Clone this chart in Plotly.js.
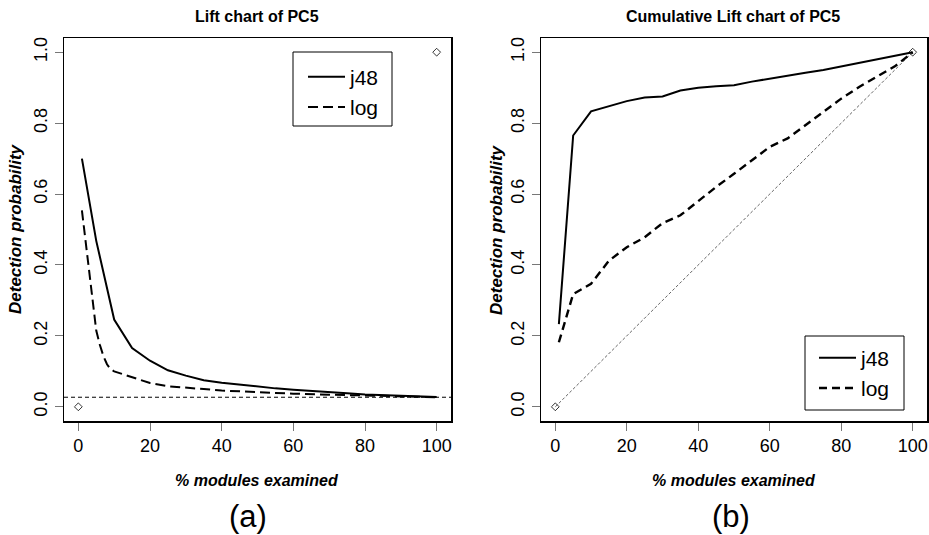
<!DOCTYPE html>
<html>
<head>
<meta charset="utf-8">
<script src="https://cdn.plot.ly/plotly-3.0.1.min.js"></script>
<style>
  html, body { margin: 0; padding: 0; background: #fff; }
  #chart { width: 929px; height: 535px; }
</style>
</head>
<body>
<div id="chart"></div>
<script>
// ---- data ----
var seriesNames = ['j48', 'log'];

// (a) Lift chart
var liftJ48X = [1, 5, 10, 15, 20, 25, 30, 35, 40, 45, 50, 55, 60, 65, 70, 75, 80, 85, 90, 95, 100];
var liftJ48Y = [0.70, 0.468, 0.246, 0.166, 0.130, 0.103, 0.088, 0.075, 0.068, 0.062, 0.056, 0.052, 0.048, 0.044, 0.040, 0.038, 0.035, 0.033, 0.030, 0.029, 0.028];
var liftLogX = [1, 2, 3, 4, 5, 6, 7, 8, 9, 10, 15, 20, 25, 30, 35, 40, 45, 50, 55, 60, 65, 70, 75, 80, 85, 90, 95, 100];
var liftLogY = [0.554, 0.47, 0.385, 0.30, 0.215, 0.175, 0.143, 0.12, 0.106, 0.100, 0.083, 0.067, 0.058, 0.053, 0.050, 0.046, 0.043, 0.041, 0.039, 0.037, 0.035, 0.034, 0.033, 0.032, 0.031, 0.029, 0.028, 0.027];
var liftBaseline = 0.027;

// (b) Cumulative lift chart
var cumX = [1, 5, 10, 15, 20, 25, 30, 35, 40, 45, 50, 55, 60, 65, 70, 75, 80, 85, 90, 95, 100];
var cumJ48Y = [0.233, 0.765, 0.833, 0.847, 0.862, 0.872, 0.875, 0.892, 0.900, 0.904, 0.907, 0.917, 0.926, 0.933, 0.942, 0.950, 0.960, 0.970, 0.982, 0.992, 1.000];
var cumLogY = [0.182, 0.318, 0.347, 0.412, 0.450, 0.478, 0.518, 0.540, 0.580, 0.620, 0.657, 0.695, 0.733, 0.757, 0.794, 0.831, 0.869, 0.902, 0.930, 0.960, 1.000];

// reference points / random-selection diagonal
var endX = [0, 100];
var endY = [0, 1];

var xTickVals = [0, 20, 40, 60, 80, 100];
var xTickText = ['0', '20', '40', '60', '80', '100'];
var yTickVals = [0, 0.2, 0.4, 0.6, 0.8, 1.0];
var yTickText = ['0.0', '0.2', '0.4', '0.6', '0.8', '1.0'];

var titles = ['Lift chart of PC5', 'Cumulative Lift chart of PC5'];
var xTitle = '% modules examined';
var yTitle = 'Detection probability';
var panelLabels = ['(a)', '(b)'];

// ---- layout helpers ----
var W = 929, H = 535;
function px(x) { return x / W; }
function py(y) { return 1 - y / H; }

var FONT = 'Liberation Sans, Arial, Helvetica, sans-serif';

var traces = [
  // panel a
  { x: liftJ48X, y: liftJ48Y, xaxis: 'x', yaxis: 'y', mode: 'lines', name: seriesNames[0],
    line: { color: '#000', width: 2 }, legend: 'legend' },
  { x: liftLogX, y: liftLogY, xaxis: 'x', yaxis: 'y', mode: 'lines', name: seriesNames[1],
    line: { color: '#000', width: 2, dash: '10px,5px' }, legend: 'legend' },
  { x: endX, y: endY, xaxis: 'x', yaxis: 'y', mode: 'markers', showlegend: false,
    marker: { symbol: 'diamond-open', size: 6, color: '#000', line: { width: 0.8 } } },
  // panel b
  { x: endX, y: endY, xaxis: 'x2', yaxis: 'y2', mode: 'lines', showlegend: false,
    line: { color: '#666', width: 1, dash: '3px,2px' } },
  { x: cumX, y: cumJ48Y, xaxis: 'x2', yaxis: 'y2', mode: 'lines', name: seriesNames[0],
    line: { color: '#000', width: 2 }, legend: 'legend2' },
  { x: cumX, y: cumLogY, xaxis: 'x2', yaxis: 'y2', mode: 'lines', name: seriesNames[1],
    line: { color: '#000', width: 2.4, dash: '8px,5px' }, legend: 'legend2' },
  { x: endX, y: endY, xaxis: 'x2', yaxis: 'y2', mode: 'markers', showlegend: false,
    marker: { symbol: 'diamond-open', size: 6, color: '#000', line: { width: 0.8 } } }
];

function xAxis(domain) {
  return {
    domain: domain, range: [-4, 104], tickvals: xTickVals, ticktext: xTickText,
    ticks: 'outside', ticklen: 8, tickcolor: '#777', tickwidth: 1,
    showline: true, linecolor: '#000', linewidth: 1.5, mirror: true,
    showgrid: false, zeroline: false, fixedrange: true,
    tickfont: { family: FONT, size: 18, color: '#000' }
  };
}
function yAxis(domain, anchor) {
  return {
    domain: domain, range: [-0.04, 1.04], tickvals: yTickVals, ticktext: yTickText,
    ticks: 'outside', ticklen: 8, tickcolor: '#777', tickwidth: 1, tickangle: -90,
    showline: true, linecolor: '#000', linewidth: 1.5, mirror: true,
    showgrid: false, zeroline: false, fixedrange: true, anchor: anchor,
    tickfont: { family: FONT, size: 18, color: '#000' }
  };
}

var yDom = [py(421), py(38)];
var xa = xAxis([px(64), px(451)]); xa.anchor = 'y';
var xb = xAxis([px(541), px(927)]); xb.anchor = 'y2';

var titleFont = { family: FONT, size: 16, color: '#000', weight: 'bold' };
var labFont = { family: FONT, size: 16, color: '#000', weight: 'bold', style: 'italic' };
var ylabFont = { family: FONT, size: 17, color: '#000', weight: 'bold', style: 'italic' };
var bigFont = { family: FONT, size: 31, color: '#000' };

function ann(text, x, y, font, angle) {
  return { text: text, xref: 'paper', yref: 'paper', x: px(x), y: py(y),
    xanchor: 'center', yanchor: 'middle', showarrow: false, font: font, textangle: angle || 0 };
}

var layout = {
  width: W, height: H,
  margin: { l: 0, r: 0, t: 0, b: 0 },
  paper_bgcolor: '#fff', plot_bgcolor: '#fff',
  xaxis: xa, yaxis: yAxis(yDom, 'x'),
  xaxis2: xb, yaxis2: yAxis(yDom, 'x2'),
  legend: {
    x: px(303), y: py(92), xanchor: 'left', yanchor: 'middle', itemwidth: 37,
    bgcolor: 'rgba(0,0,0,0)', borderwidth: 0,
    font: { family: FONT, size: 21, color: '#000' }, tracegroupgap: 0
  },
  legend2: {
    x: px(814), y: py(373), xanchor: 'left', yanchor: 'middle', itemwidth: 37,
    bgcolor: 'rgba(0,0,0,0)', borderwidth: 0,
    font: { family: FONT, size: 21, color: '#000' }, tracegroupgap: 0
  },
  shapes: [
    { type: 'line', xref: 'x domain', yref: 'y', x0: 0, x1: 1, y0: liftBaseline, y1: liftBaseline,
      line: { color: '#000', width: 1, dash: '4px,3px' } },
    { type: 'rect', xref: 'paper', yref: 'paper', x0: px(293), x1: px(392), y0: py(52), y1: py(126),
      line: { color: '#000', width: 1 } },
    { type: 'rect', xref: 'paper', yref: 'paper', x0: px(805), x1: px(904), y0: py(336), y1: py(410),
      line: { color: '#000', width: 1 } }
  ],
  annotations: [
    ann(titles[0], 257, 16, titleFont),
    ann(titles[1], 733, 16, titleFont),
    ann(xTitle, 257, 480, labFont),
    ann(xTitle, 734, 480, labFont),
    ann(yTitle, 15, 229, ylabFont, -90),
    ann(yTitle, 496, 229, ylabFont, -90),
    ann(panelLabels[0], 248, 516, bigFont),
    ann(panelLabels[1], 731, 516, bigFont)
  ],
  showlegend: true
};

Plotly.newPlot('chart', traces, layout, { displayModeBar: false, staticPlot: true });
</script>
</body>
</html>
